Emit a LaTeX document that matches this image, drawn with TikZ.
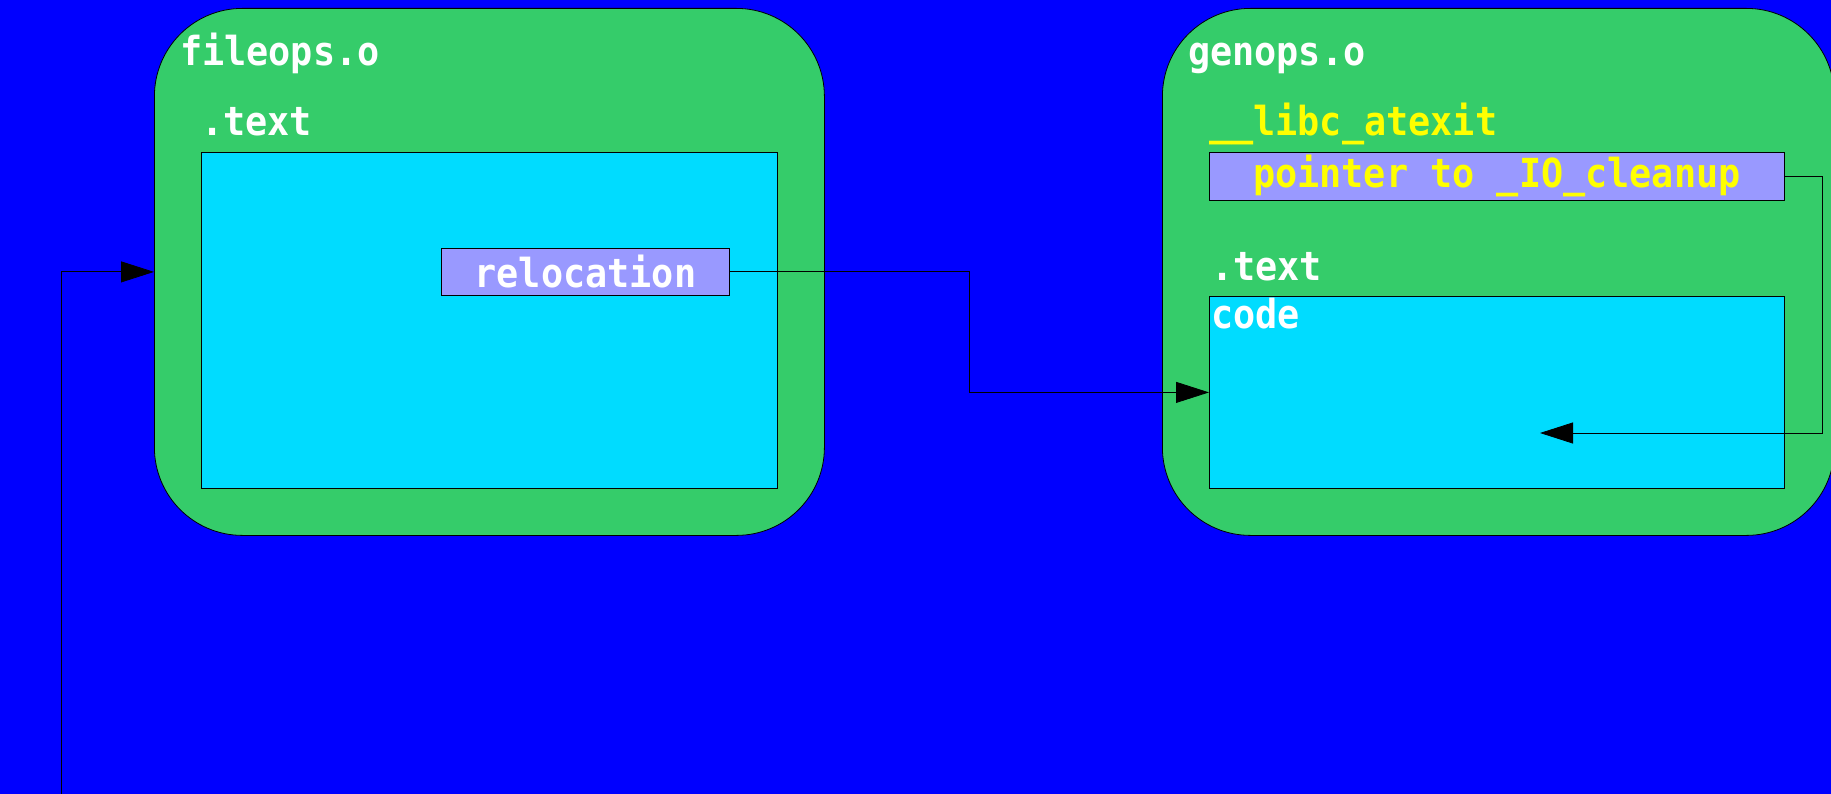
\documentclass[tikz,border=0pt]{standalone}
\usepackage{fontspec}
\newfontfamily\lblfont[FakeStretch=0.92]{DejaVu Sans Mono}
\usetikzlibrary{arrows.meta}
\definecolor{bgblue}{RGB}{0,0,255}
\definecolor{objgreen}{RGB}{53,204,106}
\definecolor{seccyan}{RGB}{0,220,255}
\definecolor{relpurple}{RGB}{153,153,255}
\definecolor{symyellow}{RGB}{255,255,0}
\tikzset{
  objbox/.style={draw=black, line width=0.8pt, fill=objgreen, rounded corners=88pt, anchor=north west, inner sep=0pt},
  secbox/.style={draw=black, line width=0.8pt, fill=seccyan, anchor=north west, inner sep=0pt},
  slotbox/.style={draw=black, line width=0.8pt, fill=relpurple, anchor=north west, inner sep=0pt, font=\lblfont\bfseries\fontsize{40}{44}\selectfont},
  lbl/.style={anchor=base west, inner sep=0pt, text=white, font=\lblfont\bfseries\fontsize{40}{44}\selectfont},
  conn/.style={draw=black, line width=0.8pt, -{Triangle[length=33pt,width=21pt]}},
}
\begin{document}
\begin{tikzpicture}[x=1pt,y=-1pt]
\fill[bgblue] (0,0) rectangle (1831,794);
\useasboundingbox (0,0) rectangle (1831,794);
% fileops.o
\node[objbox, minimum width=670pt, minimum height=527pt] (fileops) at (154,8) {};
\node[lbl] (fileopslbl) at (180,66) {fileops.o};
\node[lbl] (ftextlbl) at (201,136) {.text};
\node[secbox, minimum width=576pt, minimum height=336pt] (ftext) at (201,152) {};
\node[slotbox, minimum width=288pt, minimum height=47pt, text=white] (reloc) at (441,248) {relocation};
% genops.o
\node[objbox, minimum width=672pt, minimum height=527pt] (genops) at (1162,8) {};
\node[lbl] (genopslbl) at (1188,66) {genops.o};
\node[lbl, text=symyellow] (atexitlbl) at (1209,136) {\_\_libc\_atexit};
\node[slotbox, minimum width=575pt, minimum height=48pt, text=symyellow] (ptr) at (1209,152) {pointer to \_IO\_cleanup};
\node[lbl] (gtextlbl) at (1211,281) {.text};
\node[secbox, minimum width=575pt, minimum height=192pt] (code) at (1209,296) {};
\node[lbl] (codelbl) at (1211,328) {code};
% connectors
\coordinate (inlet) at (61,794);
\coordinate (cleanup) at (1540,433);
\draw[conn] (inlet) |- (fileops.west |- reloc.east);
\draw[conn] (reloc.east) -- ++(240,0) |- (code.west);
\draw[conn] (ptr.east) -- ++(38,0) |- (cleanup);
\end{tikzpicture}
\end{document}
